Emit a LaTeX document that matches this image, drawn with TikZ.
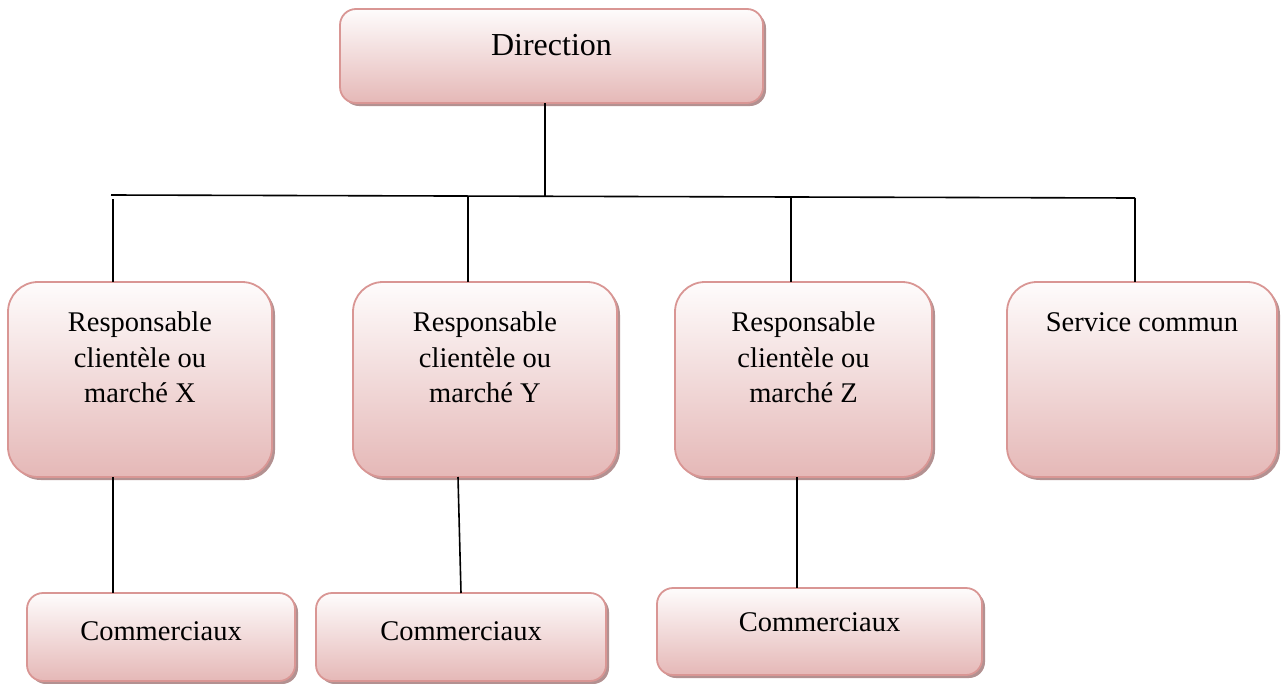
\documentclass[tikz,border=0pt]{standalone}
\usepackage{fontspec}
\setmainfont{Liberation Serif}
\usetikzlibrary{shadows}

\definecolor{boxtop}{HTML}{FEFCFC}
\definecolor{boxbot}{HTML}{E5B8B7}
\definecolor{boxline}{HTML}{D99694}
\definecolor{boxshade}{HTML}{B39191}

\tikzset{
  orgbox/.style={
    rectangle, draw=boxline, line width=1.8pt,
    top color=boxtop, bottom color=boxbot,
    inner sep=0pt, outer sep=0pt,
    drop shadow={shadow xshift=3pt, shadow yshift=-3pt, fill=boxshade, opacity=1}
  },
  bigbox/.style={orgbox, rounded corners=30pt},
  smallbox/.style={orgbox, rounded corners=16pt},
  boxtext/.style={inner sep=0pt, align=center, anchor=north,
    font=\fontsize{28.5pt}{35.5pt}\selectfont},
  link/.style={draw=black, line width=1.6pt}
}

\begin{document}
\begin{tikzpicture}[x=1pt, y=-1pt]
  \useasboundingbox (0,0) rectangle (1284,683);

  % top box
  \node[smallbox, minimum width=423pt, minimum height=94pt,
        label={[boxtext, yshift=-25pt, font=\fontsize{32pt}{36pt}\selectfont]north:Direction}]
        (dir) at (551.5,56) {};

  % managers and common service
  \node[bigbox, minimum width=264pt, minimum height=195pt,
        label={[boxtext, yshift=-30pt]north:Responsable\\clientèle ou\\marché X}]
        (rx) at (140,379.5) {};
  \node[bigbox, minimum width=264pt, minimum height=195pt,
        label={[boxtext, yshift=-30pt]north:Responsable\\clientèle ou\\marché Y}]
        (ry) at (485,379.5) {};
  \node[bigbox, minimum width=257pt, minimum height=195pt,
        label={[boxtext, yshift=-30pt]north:Responsable\\clientèle ou\\marché Z}]
        (rz) at (803.5,379.5) {};
  \node[bigbox, minimum width=270pt, minimum height=195pt,
        label={[boxtext, yshift=-30pt]north:Service commun}]
        (sc) at (1142,379.5) {};

  % sales staff
  \node[smallbox, minimum width=268pt, minimum height=88pt,
        label={[boxtext, yshift=-28pt]north:Commerciaux}]
        (cx) at (161,637) {};
  \node[smallbox, minimum width=290pt, minimum height=88pt,
        label={[boxtext, yshift=-28pt]north:Commerciaux}]
        (cy) at (461,637) {};
  \node[smallbox, minimum width=325pt, minimum height=87pt,
        label={[boxtext, yshift=-24pt]north:Commerciaux}]
        (cz) at (819.5,631.5) {};

  % horizontal bus
  \coordinate (busl) at (111,195);
  \coordinate (busr) at (1135,198);
  \coordinate (bus0) at (545,197);
  \coordinate (busx) at (113,199);
  \coordinate (busy) at (468,197);
  \coordinate (busz) at (791,197);

  \draw[link] (busl) -- (busr);
  \draw[link] (dir.south -| bus0) -- (bus0);
  \draw[link] (busx) -- (rx.north -| busx);
  \draw[link] (busy) -- (ry.north -| busy);
  \draw[link] (busz) -- (rz.north -| busz);
  \draw[link] (busr) -- (sc.north -| busr);

  % links to sales staff
  \coordinate (cyt) at (461,593);
  \coordinate (ryb) at (458,477);
  \draw[link] (rx.south -| busx) -- (cx.north -| busx);
  \draw[link] (ryb) -- (cyt);
  \draw[link] (rz.south -| 797,0) -- (cz.north -| 797,0);
\end{tikzpicture}
\end{document}
